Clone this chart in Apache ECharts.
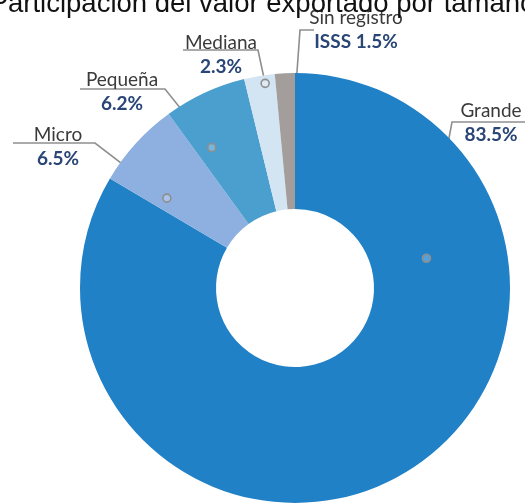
<!DOCTYPE html>
<html>
<head>
<meta charset="utf-8">
<script src="https://cdn.jsdelivr.net/npm/echarts@6/dist/echarts.min.js"></script>
<style>
html, body { margin: 0; padding: 0; background: #fff; }
#main { width: 525px; height: 503px; }
</style>
</head>
<body>
<div id="main"></div>
<script>
// datos
const categories = ['Grande', 'Micro', 'Pequeña', 'Mediana', 'Sin registro'];
const values = [83.5, 6.5, 6.2, 2.3, 1.5];
const valueLabels = ['83.5%', '6.5%', '6.2%', '2.3%', 'ISSS 1.5%'];

const colors = ['#2181c7', '#8db0e0', '#4a9fcf', '#d3e4f3', '#a39d9c'];

// posición de cada etiqueta: centro del texto, codo y final de la línea,
// y punto dentro del sector (fracción de ángulo, fracción de radio)
const labelBox = [
  { x: 491, y: 122, bend: [452, 122], end: [525, 122], dot: [0.257, 0.41], ring: true },
  { x: 58, y: 146, bend: [95, 143], end: [13, 143], dot: [0.19, 0.57], ring: true },
  { x: 122, y: 91, bend: [165, 89], end: [80, 89], dot: [0.24, 0.62], ring: true },
  { x: 221, y: 54, bend: [258, 50], end: [183, 50], dot: [0.65, 0.94], ring: true },
  { x: 356, y: 29, bend: [300, 30], end: [314, 30], dot: [0.95, 0.72], ring: false }
];

const chart = echarts.init(document.getElementById('main'));

const option = {
  animation: false,
  title: {
    text: 'Participación del valor exportado por tamaño',
    left: 'center',
    top: -15,
    textStyle: {
      fontFamily: 'Liberation Sans',
      fontSize: 27.5,
      fontWeight: 'normal',
      color: '#111'
    }
  },
  series: [
    {
      type: 'pie',
      center: [295, 288],
      radius: [79, 215],
      startAngle: 90,
      clockwise: true,
      data: categories.map((name, i) => ({
        name: name,
        value: values[i],
        itemStyle: { color: colors[i] }
      })),
      label: {
        show: true,
        position: 'outside',
        overflow: 'none',
        formatter: p => '{n|' + p.name + '}\n{v|' + valueLabels[p.dataIndex] + '}',
        rich: {
          n: { fontFamily: 'Lato', fontSize: 19, color: '#3a3a3a', lineHeight: 25 },
          v: { fontFamily: 'Lato', fontSize: 19, fontWeight: 'bold', color: '#2a4677', lineHeight: 22 }
        }
      },
      labelLine: {
        show: true,
        lineStyle: { color: '#8e8e8e', width: 1.6 }
      },
      emphasis: { disabled: true }
    }
  ]
};
chart.setOption(option);

// puntos de anclaje desde el layout del propio pie
const data = chart.getModel().getSeriesByIndex(0).getData();
const anchors = categories.map((c, i) => {
  const l = data.getItemLayout(i);
  const a = l.startAngle + (l.endAngle - l.startAngle) * labelBox[i].dot[0];
  const rr = l.r0 + (l.r - l.r0) * labelBox[i].dot[1];
  return [l.cx + rr * Math.cos(a), l.cy + rr * Math.sin(a)];
});

chart.setOption({
  series: [{
    labelLayout: function (params) {
      const b = labelBox[params.dataIndex];
      return {
        x: b.x,
        y: b.y,
        align: 'center',
        verticalAlign: 'middle',
        labelLinePoints: [anchors[params.dataIndex], b.bend, b.end]
      };
    }
  }],
  graphic: anchors
    .filter((p, i) => labelBox[i].ring)
    .map(p => ({
      type: 'circle',
      z: 100,
      shape: { cx: p[0], cy: p[1], r: 4 },
      style: { fill: 'rgba(255,255,255,0.25)', stroke: '#8e8e8e', lineWidth: 1.6 }
    }))
});
</script>
</body>
</html>
